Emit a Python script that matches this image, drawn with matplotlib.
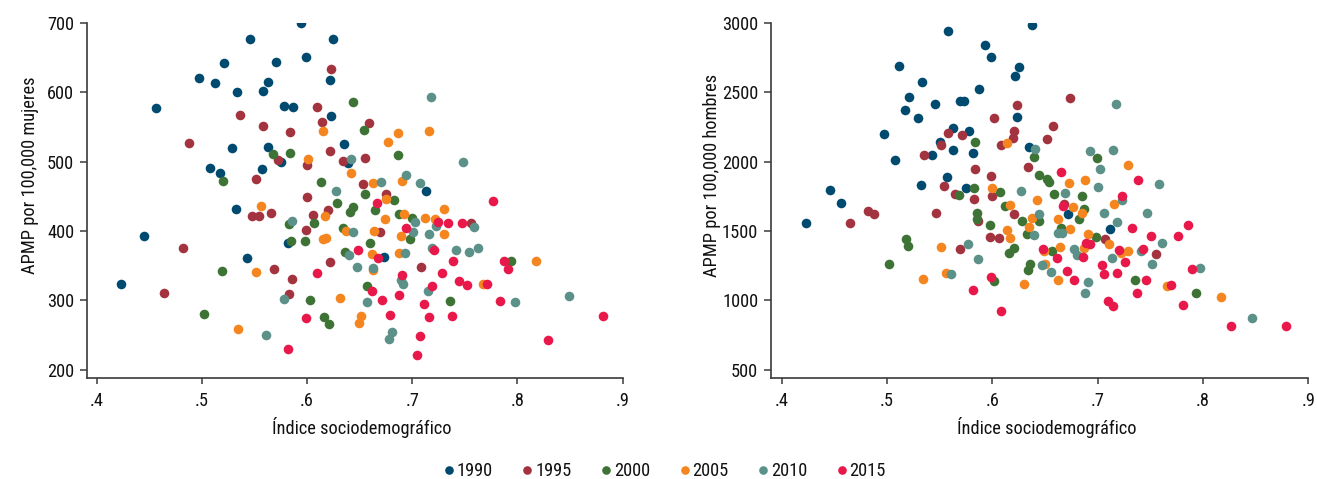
import matplotlib
matplotlib.use("Agg")
import matplotlib.pyplot as plt
from matplotlib.lines import Line2D
from matplotlib import font_manager

# ---------------- data ----------------
years = ["1990", "1995", "2000", "2005", "2010", "2015"]
colors = ["#004a70", "#a3343f", "#3d7334", "#f5851f", "#5b9189", "#e8194a"]

# Left panel: APMP por 100,000 mujeres
x_muj_1990 = [.594, .546, .625, .521, .570, .599, .497, .512, .563, .533, .558, .622, .456, .578, .587, .623,
              .529, .563, .635, .575, .508, .517, .557, .639, .532, .445, .543, .423, .582, .713, .673]
y_muj_1990 = [700, 677, 677, 643, 644, 651, 621, 613, 615, 601, 602, 618, 578, 580, 579, 566,
              520, 521, 525, 499, 491, 484, 490, 498, 432, 393, 361, 324, 383, 458, 363]

x_muj_1995 = [.623, .536, .609, .614, .558, .584, .488, .622, .634, .572, .600, .551, .600, .548, .554, .566,
              .606, .620, .599, .482, .622, .569, .586, .464, .583, .659, .655, .653, .675, .669, .708, .756]
y_muj_1995 = [634, 568, 579, 557, 551, 543, 527, 515, 501, 503, 495, 475, 449, 422, 422, 426,
              423, 430, 402, 376, 355, 345, 331, 311, 309, 556, 506, 468, 453, 399, 348, 411]

x_muj_2000 = [.644, .568, .584, .520, .613, .628, .644, .641, .583, .607, .634, .585, .598, .636, .519, .603,
              .502, .616, .621, .654, .686, .655, .683, .665, .687, .700, .698, .660, .657, .736, .794]
y_muj_2000 = [586, 511, 513, 472, 470, 441, 435, 427, 410, 411, 404, 385, 385, 370, 342, 300,
              280, 276, 266, 546, 509, 454, 445, 430, 425, 419, 388, 383, 320, 299, 357]

x_muj_2005 = [.615, .601, .642, .556, .617, .637, .615, .618, .551, .631, .534, .651, .649, .686, .716, .677,
              .663, .690, .675, .730, .692, .712, .722, .674, .664, .689, .730, .662, .687, .663, .767, .818]
y_muj_2005 = [544, 504, 484, 436, 421, 400, 389, 390, 341, 303, 259, 278, 267, 541, 544, 529,
              469, 472, 446, 432, 425, 419, 417, 418, 400, 393, 395, 367, 368, 344, 324, 357]

x_muj_2010 = [.642, .627, .586, .644, .640, .647, .578, .561, .718, .748, .694, .670, .707, .703, .723, .759,
              .701, .716, .719, .742, .754, .762, .693, .663, .689, .691, .715, .657, .798, .849, .681, .678]
y_muj_2010 = [504, 458, 415, 398, 365, 348, 302, 250, 593, 500, 481, 471, 469, 413, 407, 406,
              399, 396, 376, 373, 370, 376, 368, 346, 330, 323, 314, 298, 298, 306, 255, 244]

x_muj_2015 = [.648, .609, .599, .582, .777, .666, .724, .734, .747, .694, .721, .739, .667, .787, .791, .690,
              .728, .744, .752, .771, .719, .662, .687, .671, .711, .783, .679, .716, .738, .881, .707, .829, .704]
y_muj_2015 = [373, 339, 274, 230, 444, 441, 413, 412, 411, 404, 372, 357, 361, 357, 345, 336,
              340, 328, 322, 324, 320, 314, 308, 301, 295, 299, 279, 276, 277, 277, 248, 243, 221]

# Right panel: APMP por 100,000 hombres
x_hom_1990 = [.638, .558, .593, .599, .625, .622, .511, .533, .587, .521, .546, .569, .573, .517, .529, .623, .563,
              .578, .497, .550, .563, .543, .582, .635, .508, .557, .575, .532, .446, .456, .423, .672, .712]
y_hom_1990 = [2983, 2942, 2839, 2753, 2681, 2618, 2690, 2575, 2524, 2469, 2414, 2440, 2438, 2371, 2316, 2321, 2243,
              2220, 2200, 2145, 2085, 2047, 2066, 2104, 2011, 1886, 1811, 1831, 1795, 1703, 1561, 1626, 1518]

x_hom_1995 = [.623, .602, .621, .620, .558, .571, .551, .535, .608, .652, .584, .599, .634, .554, .565, .600,
              .583, .482, .488, .465, .547, .621, .586, .598, .606, .569, .674, .658, .668, .707, .755]
y_hom_1995 = [2412, 2318, 2220, 2174, 2210, 2193, 2119, 2049, 2121, 2160, 1946, 1895, 1960, 1828, 1770, 1749,
              1730, 1643, 1626, 1557, 1629, 1622, 1571, 1460, 1451, 1367, 2457, 2256, 1696, 1441, 1333]

x_hom_2000 = [.584, .640, .644, .652, .583, .568, .607, .612, .585, .585, .628, .644, .598, .633, .621, .616, .518,
              .520, .502, .636, .634, .602, .699, .654, .659, .685, .687, .682, .665, .698, .657, .735, .793]
y_hom_2000 = [2140, 2035, 1905, 1876, 1811, 1761, 1780, 1677, 1631, 1588, 1573, 1573, 1540, 1482, 1379, 1345, 1439,
              1391, 1261, 1264, 1218, 1136, 2023, 1857, 1766, 1749, 1660, 1590, 1521, 1460, 1359, 1146, 1055]

x_hom_2005 = [.614, .600, .617, .642, .638, .635, .614, .617, .551, .556, .534, .630, .729, .673, .688, .677,
              .685, .716, .662, .674, .691, .711, .664, .687, .729, .722, .650, .662, .766, .817, .649]
y_hom_2005 = [2133, 1809, 1689, 1725, 1593, 1528, 1509, 1446, 1388, 1199, 1156, 1115, 1979, 1849, 1870, 1674,
              1631, 1696, 1586, 1514, 1478, 1406, 1388, 1379, 1357, 1341, 1259, 1144, 1107, 1021, 1357]

x_hom_2010 = [.641, .627, .644, .640, .577, .586, .561, .647, .717, .693, .715, .702, .700, .758, .669, .723,
              .706, .747, .718, .662, .666, .761, .678, .680, .741, .714, .656, .752, .797, .691, .688, .847]
y_hom_2010 = [2092, 1785, 1622, 1468, 1406, 1297, 1189, 1254, 2414, 2080, 2085, 1946, 1818, 1842, 1773, 1725,
              1631, 1633, 1566, 1485, 1485, 1415, 1370, 1328, 1355, 1307, 1208, 1264, 1233, 1129, 1050, 870]

x_hom_2015 = [.648, .599, .582, .608, .665, .738, .723, .667, .733, .786, .751, .776, .689, .693, .720, .743, .661,
              .686, .726, .704, .671, .706, .718, .790, .678, .746, .770, .737, .710, .715, .781, .827, .879]
y_hom_2015 = [1372, 1168, 1076, 923, 1924, 1867, 1754, 1677, 1525, 1542, 1463, 1463, 1415, 1406, 1360, 1372, 1305,
              1309, 1278, 1256, 1213, 1187, 1197, 1228, 1144, 1148, 1110, 1050, 992, 956, 966, 815, 817]

xticks = [.4, .5, .6, .7, .8, .9]
xticklabels = [".4", ".5", ".6", ".7", ".8", ".9"]
yticks_muj = [200, 300, 400, 500, 600, 700]
yticks_hom = [500, 1000, 1500, 2000, 2500, 3000]
ylabel_muj = "APMP por 100,000 mujeres"
ylabel_hom = "APMP por 100,000 hombres"
xlabel = "Índice sociodemográfico"

muj_x = [x_muj_1990, x_muj_1995, x_muj_2000, x_muj_2005, x_muj_2010, x_muj_2015]
muj_y = [y_muj_1990, y_muj_1995, y_muj_2000, y_muj_2005, y_muj_2010, y_muj_2015]
hom_x = [x_hom_1990, x_hom_1995, x_hom_2000, x_hom_2005, x_hom_2010, x_hom_2015]
hom_y = [y_hom_1990, y_hom_1995, y_hom_2000, y_hom_2005, y_hom_2010, y_hom_2015]

# ---------------- font: prefer a condensed sans-serif ----------------
bad = ("bold", "italic", "oblique", "light", "medium", "semi", "extra", "black", "thin",
       "serif", "mono", "cjk")
prio = [("liberationsansnarrow", 0), ("robotocondensed", 1), ("notosans-condensed.", 2),
        ("notosanscondensed", 2), ("dejavusanscondensed", 3), ("dejavusans-condensed", 3)]
cands = []
for f in font_manager.fontManager.ttflist:
    fn = f.fname.lower().rsplit("/", 1)[-1]
    if ("condensed" in fn or "narrow" in fn) and not any(b in fn for b in bad) and f.style == "normal":
        rank = 9
        for key, r in prio:
            if fn.startswith(key) or key in fn:
                rank = min(rank, r)
        cands.append((rank, f))
cands.sort(key=lambda t: t[0])
if cands:
    cond = cands[0][1]
    plt.rcParams["font.family"] = [cond.name, "DejaVu Sans"]
    plt.rcParams["font.stretch"] = cond.stretch
else:
    plt.rcParams["font.family"] = ["DejaVu Sans"]

spine_col = "#3a3a3a"
txt_col = "#111111"
W, H = 1317, 479
DPI = 100
fig = plt.figure(figsize=(W / DPI, H / DPI), dpi=DPI)
fig.patch.set_facecolor("white")
renderer = fig.canvas.get_renderer()


def text_w(s, size):
    t = fig.text(0, 0, s, fontsize=size)
    w = t.get_window_extent(renderer).width
    t.remove()
    return w


# scale font so the axis title has the reference's width (~180 px)
FS = 14 * 180.0 / text_w(xlabel, 14)
FS = max(11.5, min(16.0, FS))

ax1 = fig.add_axes([86.7 / W, 1 - 378 / H, 536 / W, 355 / H])
ax2 = fig.add_axes([770.7 / W, 1 - 378 / H, 537.6 / W, 355 / H])


def style(ax, yticks, ylabel, ylim, xlim, ylab_x, ylab_y, xlab_x):
    ax.set_xlim(*xlim)
    ax.set_ylim(*ylim)
    ax.set_xticks(xticks)
    ax.set_xticklabels(xticklabels)
    ax.set_yticks(yticks)
    ax.set_yticklabels([str(v) for v in yticks])
    for s in ("top", "right"):
        ax.spines[s].set_visible(False)
    for s in ("left", "bottom"):
        ax.spines[s].set_color(spine_col)
        ax.spines[s].set_linewidth(1.2)
    ax.tick_params(axis="x", length=4, width=1.1, color=spine_col, labelsize=FS, pad=6, labelcolor=txt_col)
    ax.tick_params(axis="y", length=5, width=1.1, color=spine_col, labelsize=FS, pad=4, labelcolor=txt_col)
    ax.set_ylabel(ylabel, fontsize=FS, color=txt_col)
    ax.set_xlabel(xlabel, fontsize=FS, color=txt_col)
    ax.yaxis.set_label_coords(ylab_x, ylab_y)
    ax.yaxis.label.set_va("baseline")
    ax.xaxis.set_label_coords(xlab_x, (378 - 434.3) / 355)
    ax.xaxis.label.set_va("baseline")


for xs, ys, c in zip(muj_x, muj_y, colors):
    ax1.scatter(xs, ys, s=48, color=c, linewidths=0, zorder=3)
for xs, ys, c in zip(hom_x, hom_y, colors):
    ax2.scatter(xs, ys, s=48, color=c, linewidths=0, zorder=3)

style(ax1, yticks_muj, ylabel_muj, (188, 700), (0.3905, 0.9),
      (35 - 86.7) / 536, (378 - 175) / 355, (362 - 86.7) / 536)
style(ax2, yticks_hom, ylabel_hom, (440, 3000), (0.3896, 0.9),
      (717 - 770.7) / 537.6, (378 - 175) / 355, (1047 - 770.7) / 537.6)

# legend: column stride ~78.5 px, first marker centre at x=449 px, row centre y=471 px
fs_px = FS * DPI / 72.0
tw = text_w("1990", FS)
hl_px, pad_px = 8.0, 3.6
cs_px = 78.5 - hl_px - pad_px - tw
total = 5 * 78.5 + hl_px + pad_px + tw
cx = 449.3 - hl_px / 2 + total / 2
handles = [Line2D([], [], marker="o", linestyle="none", markersize=6.2, markerfacecolor=c,
                  markeredgewidth=0, label=y) for y, c in zip(years, colors)]
fig.legend(handles=handles, loc="center", bbox_to_anchor=(cx / W, 1 - 471 / H), ncol=6,
           frameon=False, fontsize=FS, handlelength=hl_px / fs_px, handletextpad=pad_px / fs_px,
           columnspacing=cs_px / fs_px, borderaxespad=0, borderpad=0, labelcolor=txt_col)

fig.savefig("out.png", dpi=DPI, facecolor="white")
